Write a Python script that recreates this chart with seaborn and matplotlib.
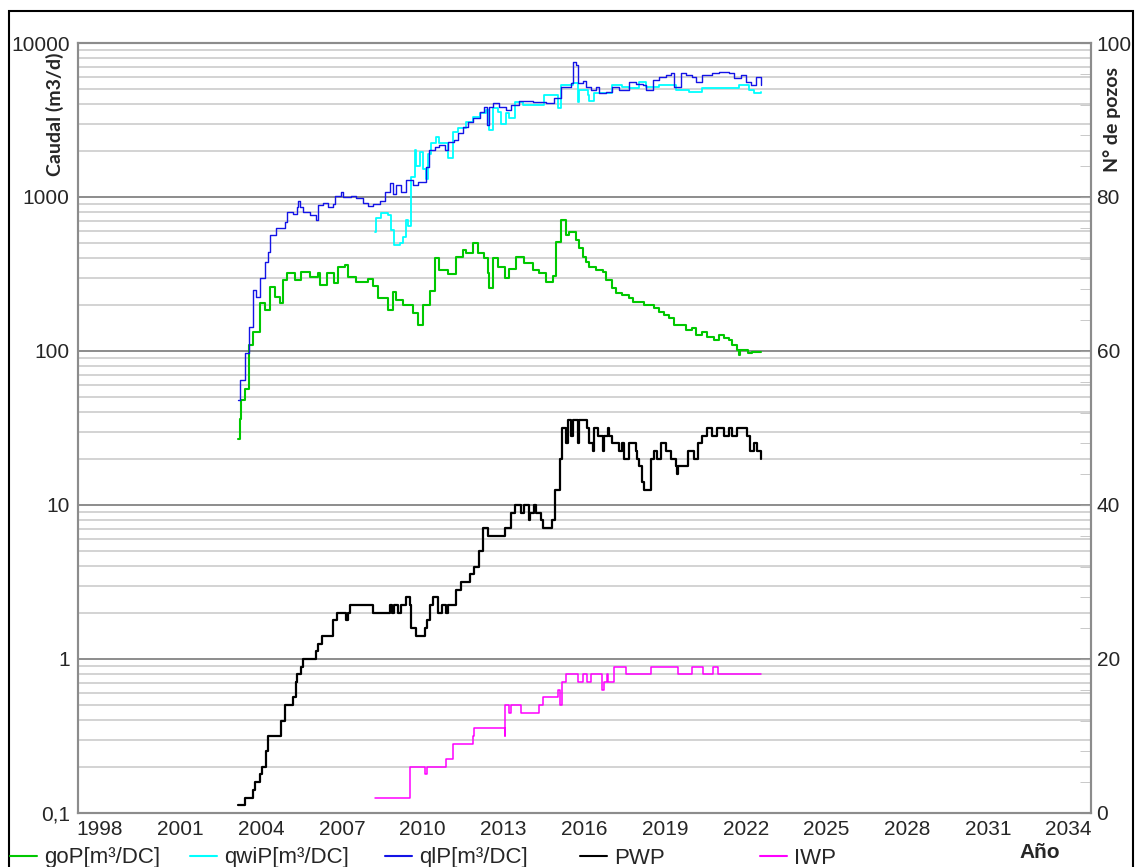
import matplotlib
matplotlib.use("Agg")
import matplotlib.pyplot as plt
import matplotlib.ticker as mticker
from matplotlib.lines import Line2D
from matplotlib.patches import Rectangle
import seaborn as sns
import pandas as pd
import numpy as np

# ---- data (decimal years) ----
years_ql = [2003.14, 2003.20, 2003.41, 2003.54, 2003.70, 2003.82, 2003.94, 2004.13, 2004.25, 2004.34,
            2004.56, 2004.87, 2004.94, 2005.18, 2005.31, 2005.37, 2005.43, 2005.55, 2005.80, 2006.05,
            2006.11, 2006.29, 2006.48, 2006.66, 2006.73, 2006.98, 2007.04, 2007.35, 2007.53, 2007.78,
            2007.96, 2008.15, 2008.40, 2008.58, 2008.77, 2008.89, 2009.02, 2009.20, 2009.39, 2009.63,
            2009.82, 2010.13, 2010.25, 2010.44, 2010.62, 2010.81, 2010.93, 2011.18, 2011.30, 2011.49,
            2011.67, 2011.86, 2012.11, 2012.29, 2012.38, 2012.48, 2012.60, 2012.85, 2013.10, 2013.28,
            2013.59, 2014.09, 2014.58, 2014.89, 2015.14, 2015.51, 2015.57, 2015.70, 2015.76, 2015.94,
            2016.07, 2016.25, 2016.44, 2016.56, 2016.81, 2017.05, 2017.30, 2017.67, 2017.92, 2018.17,
            2018.29, 2018.54, 2018.79, 2019.04, 2019.22, 2019.34, 2019.59, 2019.78, 2020.02, 2020.15,
            2020.39, 2020.76, 2021.01, 2021.38, 2021.57, 2021.82, 2022.00, 2022.19, 2022.38, 2022.56]
qlP = [48, 65, 97, 144, 249, 225, 297, 380, 442, 566,
       626, 692, 803, 780, 865, 942, 865, 803, 760, 707,
       890, 910, 860, 900, 1020, 1080, 1000, 1020, 980, 910,
       880, 895, 940, 1080, 1230, 1050, 1200, 1080, 1290, 1200,
       1250, 1570, 2020, 2100, 2180, 2020, 2290, 2350, 2590, 2860,
       3080, 3240, 3580, 3850, 2940, 3850, 4060, 3850, 3680, 3950,
       4200, 4150, 4050, 4380, 5200, 5470, 7530, 7200, 5470, 5690,
       5200, 4950, 5200, 4760, 4830, 5200, 4950, 5610, 5450, 5330,
       4950, 5750, 6040, 6200, 6350, 5200, 6350, 6200, 6040, 5550,
       6200, 6350, 6450, 6350, 5900, 6200, 5550, 5330, 6040, 5330]

years_qwi = [2008.21, 2008.27, 2008.46, 2008.70, 2008.83, 2008.95, 2009.14, 2009.26, 2009.36, 2009.45,
             2009.57, 2009.70, 2009.76, 2009.88, 2010.00, 2010.13, 2010.19, 2010.32, 2010.50, 2010.62,
             2010.87, 2010.93, 2011.12, 2011.30, 2011.61, 2011.86, 2012.11, 2012.36, 2012.45, 2012.60,
             2012.79, 2012.91, 2013.10, 2013.22, 2013.41, 2013.71, 2014.09, 2014.52, 2014.95, 2015.01,
             2015.14, 2015.57, 2015.76, 2015.82, 2016.13, 2016.19, 2016.38, 2017.05, 2017.42, 2017.67,
             2018.04, 2018.29, 2018.79, 2019.41, 2019.90, 2020.39, 2021.75, 2022.13, 2022.31, 2022.56]
qwiP = [594, 726, 783, 760, 611, 488, 500, 550, 707, 650,
        1350, 2020, 1600, 1950, 1530, 1300, 1900, 2230, 2470, 2230,
        2230, 1800, 2650, 2790, 3080, 3320, 3500, 3680, 2720, 3760,
        3580, 3000, 3500, 3240, 4160, 3950, 3950, 4590, 4590, 3760,
        5330, 5470, 4160, 4950, 4590, 4200, 4710, 5330, 5200, 5070,
        5610, 5200, 5330, 4950, 4830, 5070, 5330, 4950, 4710, 4830]

years_go = [2003.14, 2003.20, 2003.23, 2003.41, 2003.55, 2003.70, 2003.94, 2004.13, 2004.32, 2004.50,
            2004.69, 2004.81, 2004.94, 2005.25, 2005.49, 2005.80, 2006.11, 2006.17, 2006.43, 2006.72,
            2006.85, 2007.10, 2007.22, 2007.53, 2007.97, 2008.15, 2008.34, 2008.71, 2008.90, 2009.02,
            2009.27, 2009.64, 2009.82, 2010.01, 2010.26, 2010.44, 2010.62, 2010.93, 2011.24, 2011.49,
            2011.61, 2011.86, 2012.04, 2012.29, 2012.42, 2012.48, 2012.60, 2012.79, 2013.04, 2013.22,
            2013.47, 2013.78, 2014.09, 2014.33, 2014.58, 2014.83, 2014.95, 2015.14, 2015.32, 2015.45,
            2015.70, 2015.82, 2015.94, 2016.07, 2016.19, 2016.44, 2016.68, 2016.81, 2017.05, 2017.18,
            2017.42, 2017.67, 2017.80, 2018.23, 2018.60, 2018.79, 2018.97, 2019.16, 2019.34, 2019.78,
            2020.02, 2020.15, 2020.39, 2020.58, 2020.83, 2021.01, 2021.20, 2021.38, 2021.51, 2021.69,
            2021.75, 2021.80, 2022.07, 2022.25, 2022.56]
goP = [27, 36, 48, 57, 109, 133, 204, 185, 262, 225,
       204, 289, 320, 290, 327, 304, 320, 268, 320, 275,
       353, 361, 304, 282, 295, 265, 220, 185, 243, 214,
       200, 176, 147, 200, 245, 400, 336, 315, 410, 453,
       430, 500, 430, 400, 320, 255, 400, 353, 296, 340,
       410, 371, 336, 320, 282, 305, 513, 707, 566, 595,
       526, 465, 410, 380, 353, 336, 327, 289, 255, 237,
       231, 220, 209, 199, 189, 180, 171, 163, 147, 137,
       140, 127, 133, 124, 118, 127, 121, 118, 109, 101,
       94, 101, 97, 99, 98]

years_pwp = [2003.14, 2003.39, 2003.70, 2003.76, 2003.94, 2004.01, 2004.17, 2004.25, 2004.75, 2004.87,
             2005.18, 2005.28, 2005.33, 2005.49, 2005.55, 2006.02, 2006.11, 2006.27, 2006.66, 2006.83,
             2007.16, 2007.22, 2007.28, 2008.15, 2008.77, 2008.87, 2008.95, 2009.08, 2009.20, 2009.39,
             2009.51, 2009.57, 2009.76, 2010.10, 2010.15, 2010.28, 2010.37, 2010.56, 2010.72, 2010.85,
             2010.93, 2011.24, 2011.43, 2011.74, 2011.92, 2012.08, 2012.23, 2012.42, 2013.07, 2013.28,
             2013.41, 2013.66, 2013.78, 2013.94, 2014.00, 2014.15, 2014.21, 2014.40, 2014.46, 2014.81,
             2014.93, 2015.10, 2015.16, 2015.32, 2015.38, 2015.51, 2015.57, 2015.76, 2015.82, 2016.09,
             2016.16, 2016.31, 2016.37, 2016.50, 2016.68, 2016.75, 2016.87, 2016.93, 2017.05, 2017.30,
             2017.42, 2017.49, 2017.67, 2017.92, 2017.98, 2018.04, 2018.14, 2018.23, 2018.48, 2018.60,
             2018.72, 2018.85, 2019.04, 2019.22, 2019.41, 2019.43, 2019.47, 2019.84, 2020.09, 2020.21,
             2020.39, 2020.58, 2020.76, 2020.95, 2021.20, 2021.38, 2021.51, 2021.69, 2022.06, 2022.15,
             2022.31, 2022.43, 2022.56]
PWP = [1, 2, 3, 4, 5, 6, 8, 10, 12, 14,
       15, 17, 18, 19, 20, 21, 22, 23, 25, 26,
       25, 26, 27, 26, 27, 26, 27, 26, 27, 28,
       27, 24, 23, 24, 25, 27, 28, 26, 27, 26,
       27, 29, 30, 31, 32, 34, 37, 36, 37, 39,
       40, 39, 40, 38, 39, 40, 39, 38, 37, 38,
       42, 46, 50, 48, 51, 49, 51, 48, 51, 50,
       48, 47, 50, 49, 47, 49, 50, 49, 48, 47,
       48, 46, 48, 47, 46, 45, 43, 42, 46, 47,
       46, 48, 47, 46, 45, 44, 45, 47, 46, 48,
       49, 50, 49, 50, 49, 50, 49, 50, 49, 47,
       48, 47, 46]

years_iwp = [2008.21, 2009.51, 2010.10, 2010.17, 2010.87, 2011.12, 2011.86, 2011.92, 2013.04, 2013.07,
             2013.20, 2013.28, 2013.66, 2014.33, 2014.46, 2015.01, 2015.11, 2015.18, 2015.32, 2015.76,
             2015.94, 2016.09, 2016.25, 2016.66, 2016.75, 2016.83, 2016.89, 2016.99, 2017.09, 2017.55,
             2018.48, 2019.47, 2020.02, 2020.42, 2020.80, 2020.98, 2022.56]
IWP = [2, 6, 5, 6, 7, 9, 10, 11, 10, 14,
       13, 14, 13, 14, 15, 16, 14, 17, 18, 17,
       18, 17, 18, 16, 17, 18, 17, 17, 19, 18,
       19, 18, 19, 18, 19, 18, 18]

year_ticks = list(range(1998, 2035, 3))
left_ticks = [0.1, 1, 10, 100, 1000, 10000]
left_labels = ["0,1", "1", "10", "100", "1000", "10000"]
right_ticks = [0, 20, 40, 60, 80, 100]

legend_labels = ["goP[m³/DC]", "qwiP[m³/DC]", "qlP[m³/DC]", "PWP", "IWP"]
colors = ["#00C800", "#00FFFF", "#1414E6", "#000000", "#FF00FF"]
widths = [1.5, 1.3, 1.0, 1.6, 1.1]

# ---- style ----
sns.set_style("white")
plt.rcParams["font.family"] = ["Liberation Sans", "DejaVu Sans"]

fig = plt.figure(figsize=(11.37, 8.67), dpi=100)
ax = fig.add_axes([0.0686, 0.0623, 0.8909, 0.8881])
ax2 = ax.twinx()

rate_series = [(years_go, goP), (years_qwi, qwiP), (years_ql, qlP)]
for (xs, ys), c, lw in zip(rate_series, colors[:3], widths[:3]):
    df = pd.DataFrame({"year": xs, "val": ys})
    sns.lineplot(data=df, x="year", y="val", ax=ax, color=c, lw=lw,
                 drawstyle="steps-post", errorbar=None)

well_series = [(years_pwp, PWP), (years_iwp, IWP)]
for (xs, ys), c, lw in zip(well_series, colors[3:], widths[3:]):
    df = pd.DataFrame({"year": xs, "val": ys})
    sns.lineplot(data=df, x="year", y="val", ax=ax2, color=c, lw=lw,
                 drawstyle="steps-post", errorbar=None)

# left log axis
ax.set_yscale("log")
ax.set_ylim(0.1, 10000)
ax.set_xlim(1997.19, 2034.83)
ax.yaxis.set_major_locator(mticker.FixedLocator(left_ticks))
ax.yaxis.set_major_formatter(mticker.FixedFormatter(left_labels))
ax.yaxis.set_minor_locator(mticker.LogLocator(base=10, subs=np.arange(2, 10), numticks=20))
ax.yaxis.set_minor_formatter(mticker.NullFormatter())
ax.grid(which="major", axis="y", color="#8C8C8C", lw=1.4)
ax.grid(which="minor", axis="y", color="#C8C8C8", lw=1.1)
ax.set_axisbelow(True)
ax.set_xlabel("")
ax.set_ylabel("")

ax.xaxis.set_major_locator(mticker.FixedLocator(year_ticks))
ax.xaxis.set_major_formatter(mticker.FuncFormatter(lambda v, p: f"{int(round(v))}"))
ax.xaxis.set_minor_locator(mticker.MultipleLocator(1))
ax.tick_params(axis="x", which="major", direction="in", length=7, width=1, color="#A0A0A0",
               labelsize=15, pad=5)
ax.tick_params(axis="x", which="minor", direction="in", length=4, width=1, color="#A0A0A0")
ax.tick_params(axis="y", which="both", length=0, labelsize=15, pad=6)

# right linear axis (well count)
ax2.set_ylim(0, 100)
ax2.yaxis.set_major_locator(mticker.FixedLocator(right_ticks))
ax2.yaxis.set_minor_locator(mticker.MultipleLocator(4))
ax2.tick_params(axis="y", which="major", direction="in", length=8, color="#A0A0A0",
                labelsize=15, pad=4)
ax2.tick_params(axis="y", which="minor", direction="in", length=8, color="#C0C0C0")
ax2.set_ylabel("")
ax2.grid(False)

for a in (ax, ax2):
    for s in a.spines.values():
        s.set_color("#8C8C8C")
        s.set_linewidth(1.5)

# axis titles
fig.text(55 / 1137, 1 - 52 / 867, "Caudal (m3/d)", rotation=90, ha="center", va="top",
         fontsize=14, fontweight="bold", family=["Lato", "DejaVu Sans"])
fig.text(1112 / 1137, 1 - 67 / 867, "N° de pozos", rotation=90, ha="center", va="top",
         fontsize=14, fontweight="bold", family=["Lato", "DejaVu Sans"])
fig.text(1040 / 1137, 1 - 852 / 867, "Año", ha="center", va="center",
         fontsize=15, fontweight="bold")

# legend entries along the bottom edge
legend_x = [10, 190, 385, 580, 760]
for lbl, c, x in zip(legend_labels, colors, legend_x):
    h = Line2D([], [], color=c, lw=1.5)
    fig.legend(handles=[h], labels=[lbl], loc="center left",
               bbox_to_anchor=(x / 1137, 1 - 858 / 867), frameon=False,
               fontsize=16, handlelength=1.2, handletextpad=0.35,
               borderpad=0, borderaxespad=0)

# outer frame
fig.add_artist(Rectangle((9 / 1137, -0.02), (1133 - 9) / 1137, 1 - 11 / 867 + 0.02,
                         transform=fig.transFigure, fill=False, lw=1.5, ec="black",
                         clip_on=False))

fig.savefig("out.png", dpi=100)
